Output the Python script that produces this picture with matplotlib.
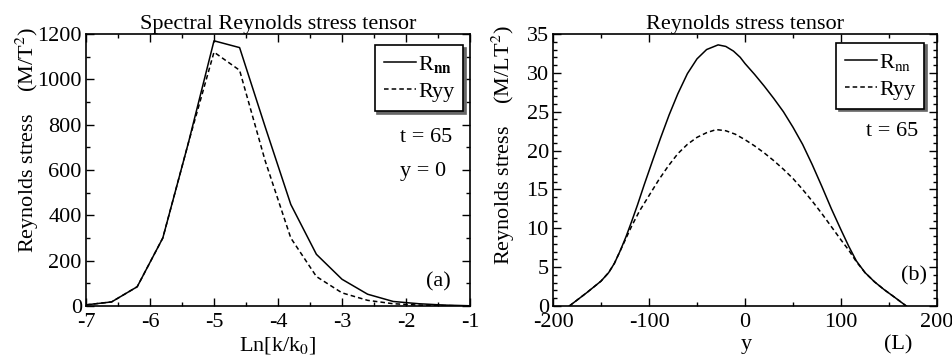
import matplotlib
matplotlib.use("Agg")
import matplotlib.pyplot as plt
from matplotlib.ticker import MultipleLocator

plt.rcParams['font.family'] = ['Liberation Serif', 'DejaVu Serif']
plt.rcParams['mathtext.fontset'] = 'stix'
plt.rcParams['font.size'] = 16
plt.rcParams['axes.unicode_minus'] = False

# (a) spectral Reynolds stress vs Ln[k/k0]
lnk = [-7.0, -6.6, -6.2, -5.8, -5.4, -5.0, -4.6, -4.2, -3.8, -3.4, -3.0, -2.6, -2.2, -1.8, -1.4, -1.0]
spec_rnn = [5, 18, 85, 300, 720, 1170, 1140, 790, 448, 228, 118, 52, 20, 10, 4, 1]
spec_ryy = [5, 18, 85, 300, 720, 1120, 1040, 640, 300, 130, 58, 25, 10, 4, 2, 0]

# (b) Reynolds stress profile vs y
y_nn = [-183, -165, -150, -142, -136, -130, -124, -118, -112, -105, -96, -88, -79, -70,
        -60, -50, -40, -28, -20, -12, -5, 0, 10, 20, 30, 40, 50, 60, 70, 80, 90, 100, 108,
        116, 125, 135, 145, 155, 168]
r_nn = [0, 1.7, 3.2, 4.3, 5.5, 7.1, 8.9, 10.9, 13.0, 15.6, 18.8, 21.6, 24.6, 27.3,
        29.9, 31.8, 33.0, 33.6, 33.4, 32.8, 32.0, 31.2, 29.8, 28.3, 26.7, 25.0, 23.0, 20.8, 18.2,
        15.4, 12.5, 9.8, 7.7, 5.8, 4.3, 3.1, 2.1, 1.2, 0]
y_yy = [-183, -165, -150, -142, -136, -130, -124, -118, -110, -100, -90, -80, -70, -60, -50,
        -40, -30, -20, -10, 0, 10, 20, 30, 40, 50, 60, 70, 80, 90, 100, 108,
        116, 125, 135, 145, 155, 168]
r_yy = [0, 1.7, 3.2, 4.3, 5.5, 7.1, 8.7, 10.3, 12.2, 14.2, 16.2, 18.0, 19.6, 20.8, 21.7,
        22.3, 22.7, 22.55, 22.1, 21.4, 20.6, 19.7, 18.7, 17.6, 16.4, 15.0, 13.5, 11.9, 10.2, 8.5, 7.2,
        5.7, 4.3, 3.1, 2.1, 1.2, 0]

fig = plt.figure(figsize=(9.52, 3.56), dpi=100)
ax1 = fig.add_axes([86/952, 50/356, 384/952, 272/356])
ax2 = fig.add_axes([553/952, 50/356, 384/952, 272/356])

def style(ax):
    for s in ax.spines.values():
        s.set_linewidth(1.2)
    ax.tick_params(which='both', direction='in', top=True, right=True, labelsize=16)
    ax.tick_params(axis='x', pad=5)
    ax.tick_params(axis='y', pad=3)
    ax.tick_params(which='major', length=6, width=1)
    ax.tick_params(which='minor', length=3, width=1)

leg_kw = dict(loc='upper right', fancybox=False, framealpha=1, edgecolor='black',
              shadow={'color': '0.4', 'alpha': 1}, handlelength=1.45, handletextpad=0.1,
              borderpad=0.4, labelspacing=0.3, borderaxespad=0, fontsize=16)

ax1.plot(lnk, spec_rnn, color='black', lw=1.1, label=r'R$_{\mathbf{nn}}$')
ax1.plot(lnk, spec_ryy, color='black', lw=1.1, ls=(0, (3, 2)), label='Ryy')
ax1.set_xlim(-7, -1)
ax1.set_ylim(0, 1200)
ax1.xaxis.set_major_locator(MultipleLocator(1))
ax1.xaxis.set_minor_locator(MultipleLocator(0.5))
ax1.yaxis.set_major_locator(MultipleLocator(200))
ax1.yaxis.set_minor_locator(MultipleLocator(100))
style(ax1)
ax1.set_title('Spectral Reynolds stress tensor', fontsize=16, pad=1)
lg1 = ax1.legend(bbox_to_anchor=(0.982, 0.96), **leg_kw)
lg1.get_frame().set_linewidth(1.2)
ax1.text(0.885, 0.618, 't = 65', transform=ax1.transAxes, ha='center', va='center')
ax1.text(0.877, 0.496, 'y = 0', transform=ax1.transAxes, ha='center', va='center')
ax1.text(0.918, 0.088, '(a)', transform=ax1.transAxes, ha='center', va='center')

ax2.plot(y_nn, r_nn, color='black', lw=1.1, label=r'R$_{\mathrm{nn}}$')
ax2.plot(y_yy, r_yy, color='black', lw=1.1, ls=(0, (3, 2)), label='Ryy')
ax2.set_xlim(-200, 200)
ax2.set_ylim(0, 35)
ax2.xaxis.set_major_locator(MultipleLocator(100))
ax2.xaxis.set_minor_locator(MultipleLocator(50))
ax2.yaxis.set_major_locator(MultipleLocator(5))
ax2.yaxis.set_minor_locator(MultipleLocator(1))
style(ax2)
ax2.set_title('Reynolds stress tensor', fontsize=16, pad=1)
lg2 = ax2.legend(bbox_to_anchor=(0.967, 0.968), **leg_kw)
lg2.get_frame().set_linewidth(1.2)
ax2.text(0.883, 0.64, 't = 65', transform=ax2.transAxes, ha='center', va='center')
ax2.text(0.94, 0.11, '(b)', transform=ax2.transAxes, ha='center', va='center')

# axis labels
fig.text(27/952, 1 - 140/356, r'Reynolds stress    (M/T$^2$)', rotation=90, ha='center', va='center')
fig.text(503/952, 1 - 145/356, r'Reynolds stress    (M/LT$^2$)', rotation=90, ha='center', va='center')
fig.text(278/952, 5/356, r'Ln[k/k$_0$]', ha='center', va='baseline')
fig.text(746/952, 7/356, 'y', ha='center', va='baseline')
fig.text(898/952, 7/356, '(L)', ha='center', va='baseline')

fig.savefig('out.png', dpi=100)
